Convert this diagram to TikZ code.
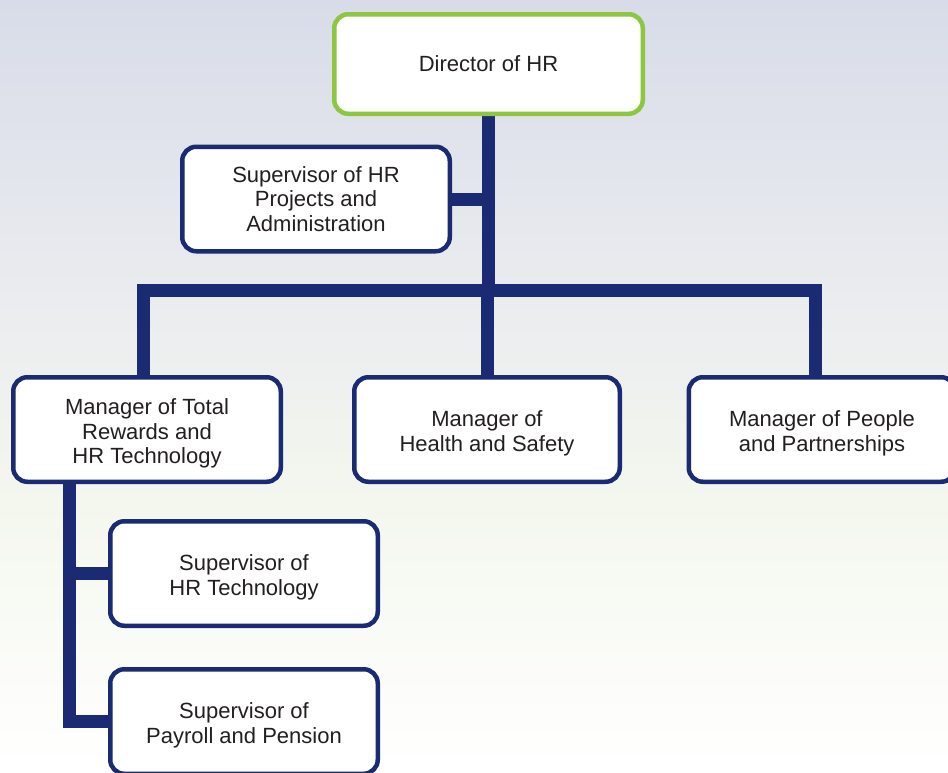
\documentclass[tikz,border=0pt]{standalone}
\usepackage{fontspec}
\setmainfont{Liberation Sans}
\definecolor{navy}{HTML}{1B2B73}
\definecolor{leaf}{HTML}{8DC63F}
\definecolor{txt}{HTML}{231F20}
\definecolor{bgTop}{HTML}{D8DCE8}
\definecolor{bgMid}{HTML}{EAECEF}
\definecolor{bgGreen}{HTML}{F4F7EE}
\pgfdeclareverticalshading{bgshade}{100bp}{color(0bp)=(white); color(25bp)=(white); color(42.6bp)=(bgGreen); color(55.6bp)=(bgMid); color(75bp)=(bgTop); color(100bp)=(bgTop)}
\newcommand{\lowstrut}{\rule{0pt}{24pt}}
\tikzset{
  box/.style={draw=navy, line width=4.5pt, fill=white, rounded corners=14pt,
    minimum width=267.5pt, minimum height=104.5pt, inner sep=0pt, align=center,
    text=txt, font=\fontsize{22}{24.5}\selectfont},
  topbox/.style={box, draw=leaf, minimum width=308.5pt, minimum height=99.5pt},
  conn/.style={draw=navy, line width=13pt, line join=miter}
}
\begin{document}
\begin{tikzpicture}[x=1pt,y=-1pt]
\shade[shading=bgshade] (0,0) rectangle (948,772);
\useasboundingbox (0,0) rectangle (948,772);
% connectors first (behind boxes)
\coordinate (barL) at (143,290);
\coordinate (barR) at (815,290);
\coordinate (lt) at (69,440);
\coordinate (dirC) at (488.5,64);
\coordinate (hrC) at (316,199);
\coordinate (totC) at (147,429.5);
\coordinate (hsC) at (487,429.5);
\coordinate (ppC) at (822,429.5);
\coordinate (techC) at (244,573.5);
\coordinate (payC) at (244,721.5);
\draw[conn] (dirC) -- (dirC |- barL);
\draw[conn] (hrC) -- (hrC -| dirC);
\draw[conn] (totC -| barL) -- (barL) -- (barR) -- (ppC -| barR);
\draw[conn] (hsC) -- (hsC |- barL);
\draw[conn] (lt) -- (lt |- payC) -- (payC);
\draw[conn] (lt |- techC) -- (techC);
% boxes
\node[topbox] (dir) at (dirC) {Director of HR};
\node[box] (hr) at (hrC) {Supervisor of HR\\Projects and\\Administration};
\node[box] (tot) at (totC) {\lowstrut Manager of Total\\Rewards and\\HR Technology};
\node[box, minimum width=265.5pt] (hs) at (hsC) {\lowstrut Manager of\\Health and Safety};
\node[box, minimum width=266.5pt] (pp) at (ppC) {\lowstrut Manager of People\\and Partnerships};
\node[box] (tech) at (techC) {\lowstrut Supervisor of\\HR Technology};
\node[box] (pay) at (payC) {\lowstrut Supervisor of\\Payroll and Pension};
\end{tikzpicture}
\end{document}
